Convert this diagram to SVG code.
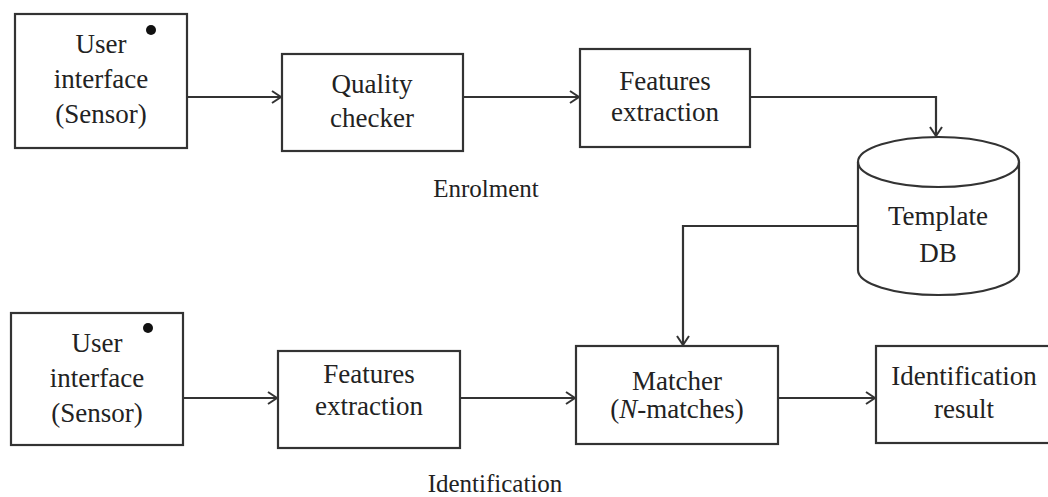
<svg xmlns="http://www.w3.org/2000/svg" width="1048" height="497" viewBox="0 0 1048 497">
<style>
.box{fill:#fff;stroke:#333;stroke-width:2.2}
.t{font-family:"Liberation Serif","Times New Roman",serif;font-size:27px;fill:#222;text-anchor:middle}
.lbl{font-family:"Liberation Serif","Times New Roman",serif;font-size:25px;fill:#222;text-anchor:middle}
.c{fill:none;stroke:#333;stroke-width:2.2}
</style>
<defs>
<marker id="ah" markerUnits="userSpaceOnUse" markerWidth="14" markerHeight="16" refX="10" refY="7" orient="auto">
<path d="M1,1 L10,7 L1,13" fill="none" stroke="#333" stroke-width="2"/>
</marker>
</defs>
<rect width="1048" height="497" fill="#fff"/>
<g id="connectors">
<line class="c" x1="187" y1="97" x2="281" y2="97" marker-end="url(#ah)"/>
<line class="c" x1="463" y1="97" x2="579" y2="97" marker-end="url(#ah)"/>
<polyline class="c" points="750,97 936,97 936,136" marker-end="url(#ah)"/>
<polyline class="c" points="858,226 683,226 683,345" marker-end="url(#ah)"/>
<line class="c" x1="183" y1="398" x2="277" y2="398" marker-end="url(#ah)"/>
<line class="c" x1="460" y1="398" x2="575" y2="398" marker-end="url(#ah)"/>
<line class="c" x1="778" y1="398" x2="875" y2="398" marker-end="url(#ah)"/>
</g>
<g id="ui-enrol">
<rect class="box" x="15" y="14" width="172" height="134"/>
<circle cx="151" cy="30" r="5" fill="#111"/>
<text class="t" x="101" y="53">User</text>
<text class="t" x="101" y="88">interface</text>
<text class="t" x="101" y="123">(Sensor)</text>
</g>
<g id="quality">
<rect class="box" x="282" y="54" width="181" height="97"/>
<text class="t" x="372" y="93">Quality</text>
<text class="t" x="372" y="127">checker</text>
</g>
<g id="feat-enrol">
<rect class="box" x="580" y="49" width="170" height="98"/>
<text class="t" x="665" y="90">Features</text>
<text class="t" x="665" y="121">extraction</text>
</g>
<g id="templatedb">
<path class="box" d="M858,162 L858,270 A80.5,25 0 0 0 1019,270 L1019,162 A80.5,25 0 0 0 858,162 Z"/>
<path class="c" d="M858,162 A80.5,25 0 0 0 1019,162"/>
<text class="t" x="938" y="225">Template</text>
<text class="t" x="938" y="262">DB</text>
</g>
<g id="enrolment-label">
<text class="lbl" x="486" y="197">Enrolment</text>
</g>
<g id="ui-ident">
<rect class="box" x="11" y="313" width="172" height="132"/>
<circle cx="148" cy="328" r="5" fill="#111"/>
<text class="t" x="97" y="352">User</text>
<text class="t" x="97" y="387">interface</text>
<text class="t" x="97" y="422">(Sensor)</text>
</g>
<g id="feat-ident">
<rect class="box" x="278" y="351" width="182" height="97"/>
<text class="t" x="369" y="383">Features</text>
<text class="t" x="369" y="415">extraction</text>
</g>
<g id="matcher">
<rect class="box" x="576" y="346" width="202" height="98"/>
<text class="t" x="677" y="390">Matcher</text>
<text class="t" x="677" y="418">(<tspan font-style="italic">N</tspan>-matches)</text>
</g>
<g id="result">
<rect class="box" x="876" y="346" width="176" height="97"/>
<text class="t" x="964" y="385">Identification</text>
<text class="t" x="964" y="418">result</text>
</g>
<g id="identification-label">
<text class="lbl" x="495" y="492">Identification</text>
</g>
</svg>
